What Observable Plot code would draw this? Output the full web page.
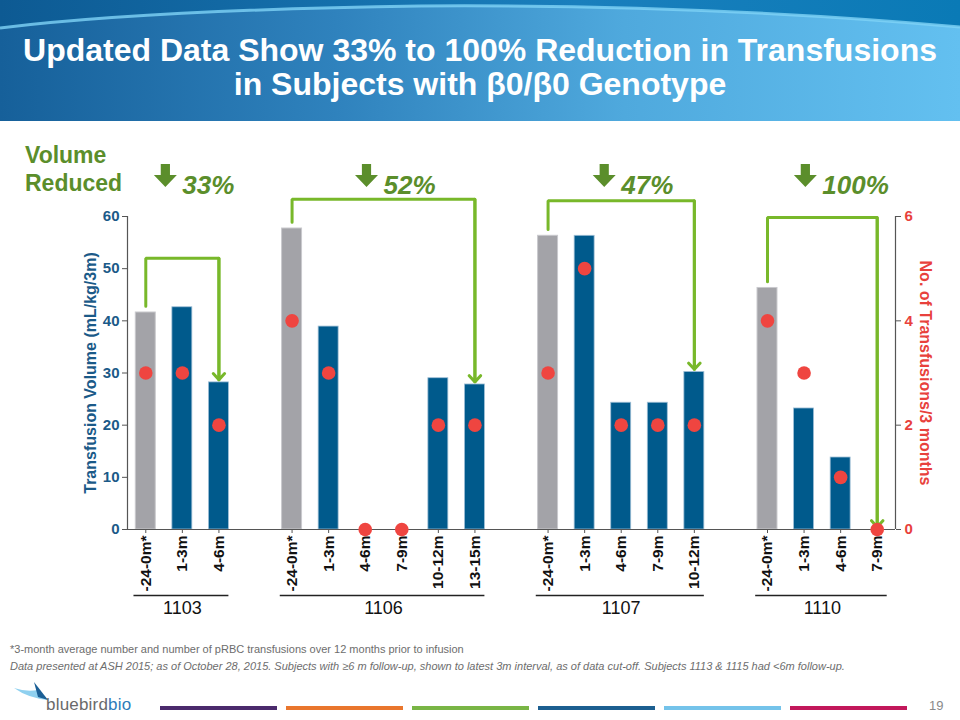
<!DOCTYPE html>
<html>
<head>
<meta charset="utf-8">
<script src="https://cdn.jsdelivr.net/npm/d3@7"></script>
<script src="https://cdn.jsdelivr.net/npm/@observablehq/plot@0.6"></script>
<style>
  html, body { margin: 0; padding: 0; background: #fff; }
  body { width: 960px; height: 720px; position: relative; overflow: hidden; font-family: "Liberation Sans", Arial, sans-serif; }
  #header { position: absolute; left: 0; top: 0; width: 960px; height: 121px; overflow: hidden;
    background: linear-gradient(90deg, #16609a 0%, #2f82bd 35%, #4fa9dd 65%, #63c0f0 100%); }
  #header svg { position: absolute; left: 0; top: 0; }
  #title { position: absolute; left: 0; top: 33px; width: 960px; text-align: center; color: #fff;
    font-weight: bold; font-size: 32px; line-height: 34px; }
  #volred { position: absolute; left: 25px; top: 141px; color: #5b8e2b; font-weight: bold; font-size: 23px; line-height: 28px; }
  #chart { position: absolute; left: 0; top: 130px; }
  .note { position: absolute; left: 10px; font-size: 11px; color: #6d6d6d; white-space: nowrap; }
  #logo { position: absolute; left: 46px; top: 695px; font-size: 17px; color: #6a6a6a; letter-spacing: 0.2px; }
  #logo span { color: #2d7cba; }
  .stripe { position: absolute; top: 706px; height: 4px; width: 117px; }
  #page { position: absolute; left: 929px; top: 698px; font-size: 13px; color: #8a8a8a; }
</style>
</head>
<body>
<div id="header">
  <svg width="960" height="121">
    <defs>
      <linearGradient id="topg" x1="0" x2="1" y1="0" y2="0">
        <stop offset="0" stop-color="#0d5a93"/>
        <stop offset="0.6" stop-color="#1a7fbd"/>
        <stop offset="1" stop-color="#0a7ab6"/>
      </linearGradient>
    </defs>
    <path d="M0,0 L960,0 L960,27 Q700,4 420,6 Q150,10 0,28 Z" fill="url(#topg)"/>
    <path d="M0,28 Q150,10 420,6 Q700,4 960,27" fill="none" stroke="#7fd3f6" stroke-width="3" opacity="0.8"/>
  </svg>
  <div id="title">Updated Data Show 33% to 100% Reduction in Transfusions<br>in Subjects with β0/β0 Genotype</div>
</div>
<div id="volred">Volume<br>Reduced</div>
<div id="chart"></div>
<div class="note" style="top:643px">*3-month average number and number of pRBC transfusions over 12 months prior to infusion</div>
<div class="note" style="top:660px;font-style:italic">Data presented at ASH 2015; as of October 28, 2015. Subjects with ≥6 m follow-up, shown to latest 3m interval, as of data cut-off. Subjects 1113 &amp; 1115 had &lt;6m follow-up.</div>
<svg style="position:absolute;left:14px;top:682px" width="36" height="22">
  <path d="M0,6 Q14,16 34,18 L24,8 Q12,10 0,6 Z" fill="#8fd0ef"/>
  <path d="M20,0 L34,18 L24,15 Z" fill="#1b5f96"/>
</svg>
<div id="logo">bluebird<span>bio</span></div>
<div class="stripe" style="left:160px;background:#4b2a6c"></div>
<div class="stripe" style="left:286px;background:#e9762d"></div>
<div class="stripe" style="left:412px;background:#79b545"></div>
<div class="stripe" style="left:538px;background:#1c5f90"></div>
<div class="stripe" style="left:664px;background:#74c3ea"></div>
<div class="stripe" style="left:790px;background:#c2185b"></div>
<div id="page">19</div>
<script>
// ---- data ----
const subjects = ["1103", "1106", "1107", "1110"];
const periods = [
  ["-24-0m*", "1-3m", "4-6m"],
  ["-24-0m*", "1-3m", "4-6m", "7-9m", "10-12m", "13-15m"],
  ["-24-0m*", "1-3m", "4-6m", "7-9m", "10-12m"],
  ["-24-0m*", "1-3m", "4-6m", "7-9m"]
];
const volume = [
  [41.6, 42.6, 28.2],
  [57.7, 38.9, 0, 0, 29.0, 27.8],
  [56.3, 56.3, 24.3, 24.3, 30.2],
  [46.3, 23.2, 13.8, 0]
];
const transfusions = [
  [3, 3, 2],
  [4, 3, 0, 0, 2, 2],
  [3, 5, 2, 2, 2],
  [4, 3, 1, 0]
];
const reduction = ["33%", "52%", "47%", "100%"];
const bracketTop = [52, 63.3, 63, 59.8];

// ---- build tables ----
const rows = [];
const groups = [];
let slot = 0;
subjects.forEach((s, g) => {
  if (g > 0) slot++; // empty spacer slot between subjects
  const first = slot;
  periods[g].forEach((p, k) => {
    rows.push({subject: s, period: p, i: slot, volume: volume[g][k], count: transfusions[g][k], baseline: k === 0});
    slot++;
  });
  const last = slot - 1;
  groups.push({name: s, first, last, mid: (first + last) / 2, pct: reduction[g],
    top: bracketTop[g], start: volume[g][0] + 1.2, end: volume[g][periods[g].length - 1] + 0.5});
});
const lastSlot = slot - 1;
const labelOf = new Map(rows.map(d => [d.i, d.period]));
const bracketPts = groups.flatMap(g => [
  {g: g.name, x: g.first, y: g.start},
  {g: g.name, x: g.first, y: g.top},
  {g: g.name, x: g.last, y: g.top},
  {g: g.name, x: g.last, y: g.end}
]);

const BW = 0.273;
const gray = "#a3a3a8", blue = "#005a8c", red = "#ef4540", green = "#78b82a", dkgreen = "#5b8e2b";
const axisBlue = "#1b5a88";

const downArrow = {
  draw(ctx, size) {
    const r = Math.sqrt(size / Math.PI);
    const w = 0.4 * r;
    ctx.moveTo(-w, -r); ctx.lineTo(w, -r); ctx.lineTo(w, -0.05 * r);
    ctx.lineTo(r, -0.05 * r); ctx.lineTo(0, r); ctx.lineTo(-r, -0.05 * r);
    ctx.lineTo(-w, -0.05 * r); ctx.closePath();
  }
};

const chart = Plot.plot({
  width: 960, height: 490,
  marginLeft: 127, marginRight: 65, marginTop: 86, marginBottom: 91,
  x: {domain: [-0.5, lastSlot + 0.5], axis: null},
  y: {domain: [0, 60], axis: null},
  style: {fontFamily: "'Liberation Sans', Arial, sans-serif", background: "transparent", overflow: "visible"},
  marks: [
    Plot.rectY(rows.filter(d => d.baseline && d.volume > 0), {x1: d => d.i - BW, x2: d => d.i + BW, y: "volume", fill: gray, stroke: "#c9c9cd", strokeWidth: 1}),
    Plot.rectY(rows.filter(d => !d.baseline && d.volume > 0), {x1: d => d.i - BW, x2: d => d.i + BW, y: "volume", fill: blue, stroke: "#9fbfd6", strokeWidth: 0.8}),
    Plot.ruleX([-0.5, lastSlot + 0.5], {stroke: "#555", strokeWidth: 1.2}),
    Plot.ruleY([0], {stroke: "#555", strokeWidth: 1.2}),
    Plot.axisY({anchor: "left", ticks: [0, 10, 20, 30, 40, 50, 60], tickSize: 5, tickPadding: 3, fontSize: 15, fontWeight: "bold", fill: axisBlue, stroke: "#555", label: null}),
    Plot.axisY({anchor: "right", ticks: [0, 20, 40, 60], tickFormat: d => d / 10, tickSize: 5, tickPadding: 4, fontSize: 15, fontWeight: "bold", fill: "#e8413c", stroke: "#555", label: null}),
    Plot.axisX({ticks: rows.map(d => d.i), tickFormat: i => labelOf.get(i), tickRotate: -90, tickSize: 4, tickPadding: 2, fontSize: 15.5, fontWeight: "bold", fill: "#111", stroke: "#555", label: null}),
    Plot.text(["Transfusion Volume (mL/kg/3m)"], {frameAnchor: "left", textAnchor: "middle", rotate: -90, dx: -37, fontSize: 16, fontWeight: "bold", fill: axisBlue}),
    Plot.text(["No. of Transfusions/3 months"], {frameAnchor: "right", textAnchor: "middle", rotate: 90, dx: 30, fontSize: 16, fontWeight: "bold", fill: "#e8413c"}),
    Plot.line(bracketPts, {x: "x", y: "y", z: "g", stroke: green, strokeWidth: 3, strokeLinejoin: "miter", curve: "linear"}),
    Plot.arrow(groups, {x1: "last", x2: "last", y1: "top", y2: "end", stroke: green, strokeWidth: 3, headLength: 4.2, headAngle: 85}),
    Plot.dot(rows, {x: "i", y: d => d.count * 10, r: 6.8, fill: red}),
    Plot.ruleY(groups, {y: () => 0, x1: d => d.first - BW - 0.05, x2: d => d.last + BW, dy: 66, stroke: "#222", strokeWidth: 1.5}),
    Plot.text(groups, {x: "mid", y: () => 0, text: "name", dy: 79, fontSize: 18, fill: "#111"}),
    Plot.dot(groups, {x: "mid", frameAnchor: "top", dy: -41, dx: -17, symbol: downArrow, r: 11.5, fill: dkgreen}),
    Plot.text(groups, {x: "mid", frameAnchor: "top", dy: -41, text: "pct", textAnchor: "start", fontSize: 26, fontWeight: "bold", fontStyle: "italic", fill: dkgreen})
  ]
});
document.getElementById("chart").appendChild(chart);
</script>
</body>
</html>
